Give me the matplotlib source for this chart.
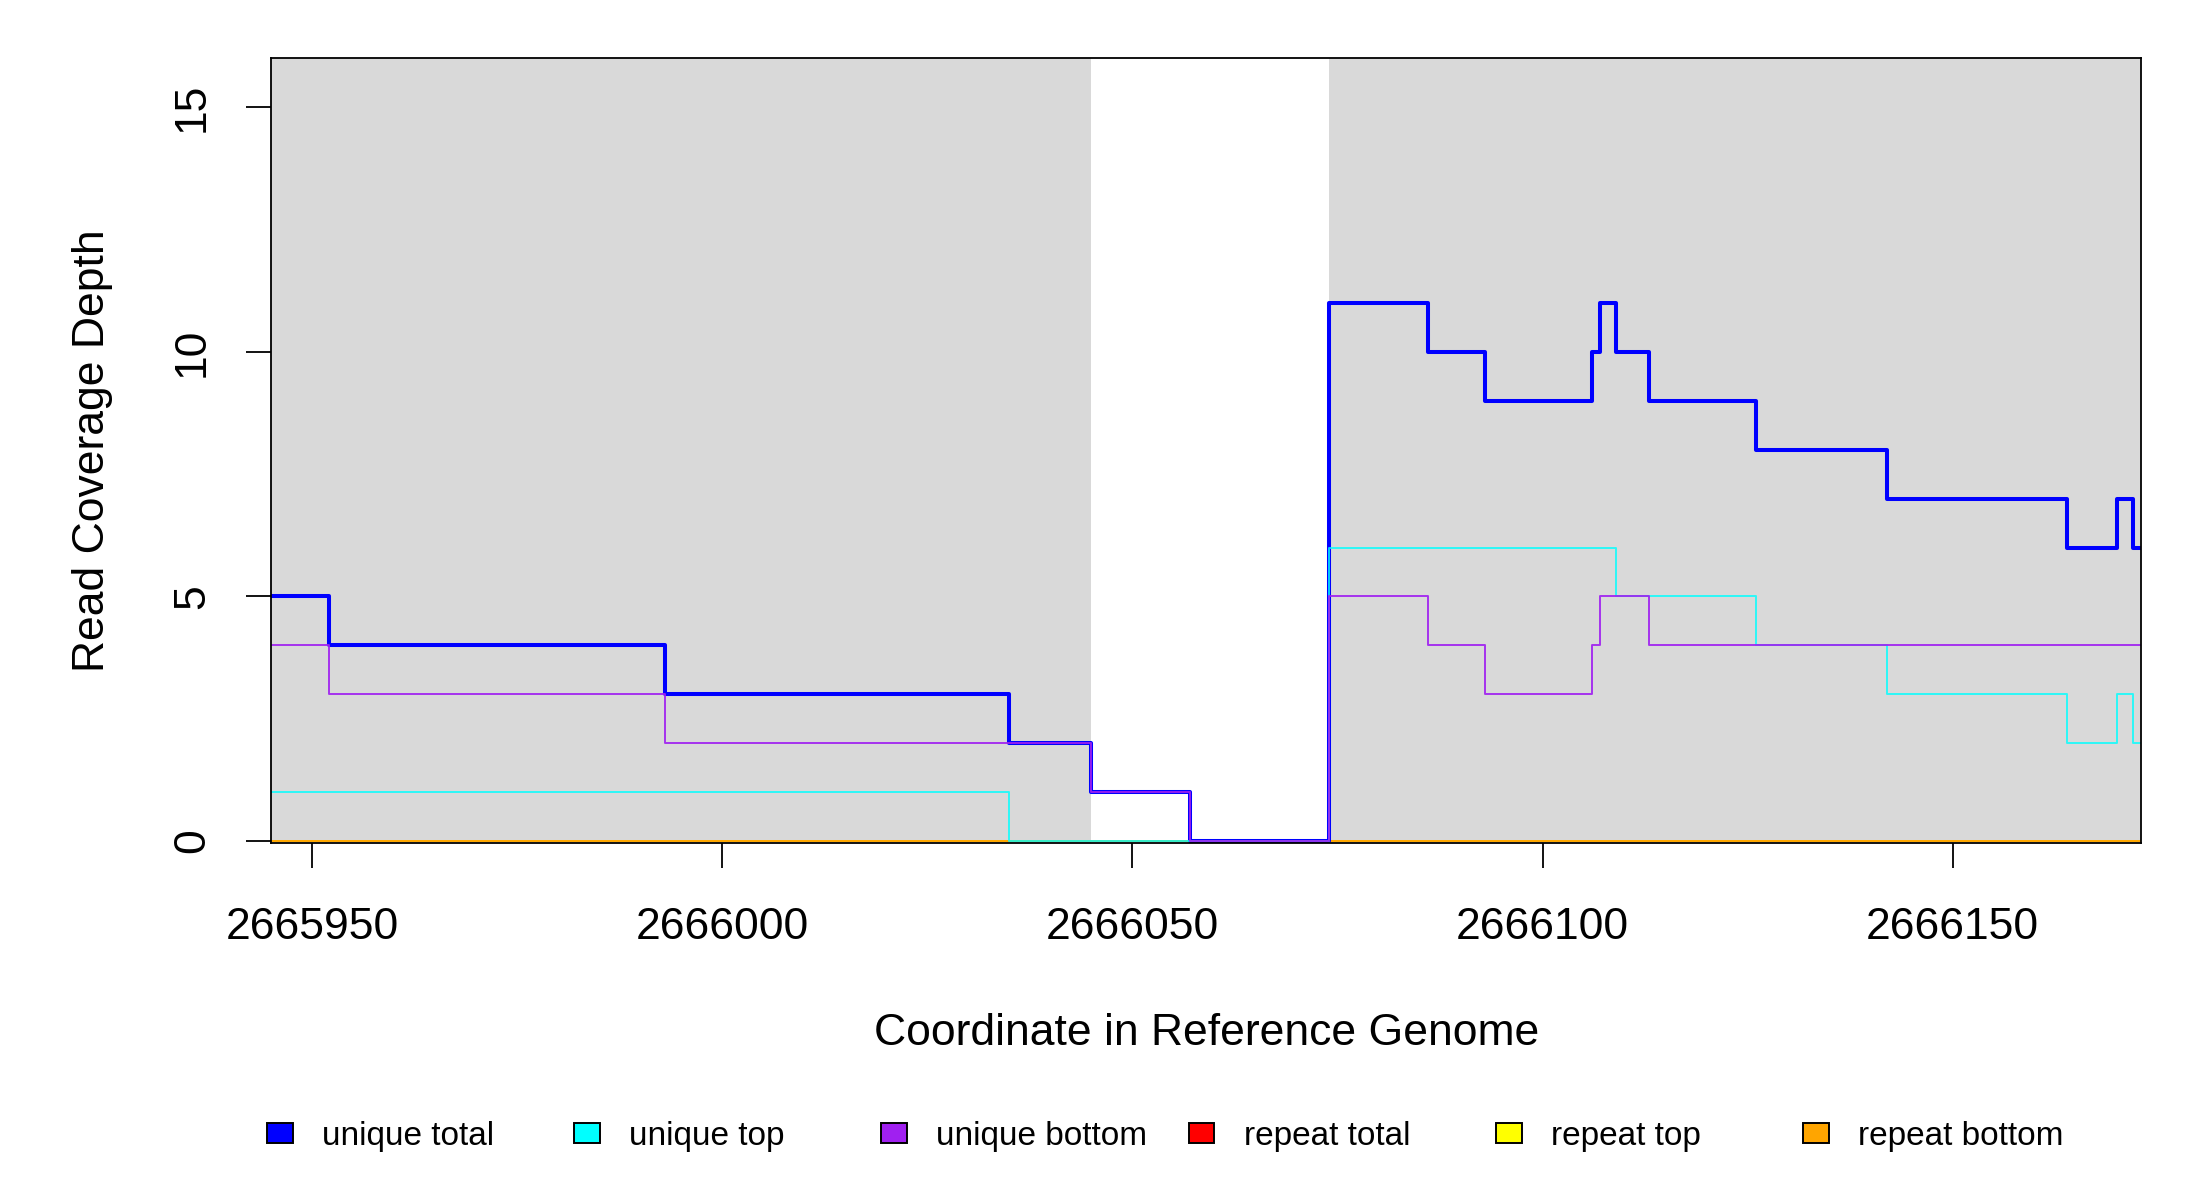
import matplotlib
matplotlib.use("Agg")
import matplotlib.pyplot as plt
from matplotlib.patches import Rectangle

plt.rcParams['font.family'] = ['Liberation Sans', 'DejaVu Sans']

# ---- data ----
positions = [2665945, 2665952, 2665993, 2666035, 2666045, 2666057, 2666074,
             2666086, 2666093, 2666106, 2666107, 2666109, 2666113, 2666126,
             2666142, 2666164, 2666170, 2666172, 2666173]
unique_total = [5, 4, 3, 2, 1, 0, 11, 10, 9, 10, 11, 10, 9, 8, 7, 6, 7, 6, 6]
unique_top = [1, 1, 1, 0, 0, 0, 6, 6, 6, 6, 6, 5, 5, 4, 3, 2, 3, 2, 2]
unique_bottom = [4, 3, 2, 2, 1, 0, 5, 4, 3, 4, 5, 5, 4, 4, 4, 4, 4, 4, 4]
repeat_total = [0] * 19
repeat_top = [0] * 19
repeat_bottom = [0] * 19

shaded_regions = [(2665945, 2666045), (2666074, 2666173)]
xlim = (2665945, 2666173)
ylim = (-0.04, 16)
xticks = [2665950, 2666000, 2666050, 2666100, 2666150]
yticks = [0, 5, 10, 15]

legend_labels = ["unique total", "unique top", "unique bottom",
                 "repeat total", "repeat top", "repeat bottom"]
legend_colors = ["#0000FF", "#00FFFF", "#A020F0", "#FF0000", "#FFFF00", "#FFA500"]

# ---- figure ----
fig = plt.figure(figsize=(22, 12), dpi=100)
W, H = 2200.0, 1200.0
ax_l, ax_r, ax_t, ax_b = 271.3, 2141.3, 58.3, 843.0
ax = fig.add_axes([ax_l / W, 1 - ax_b / H, (ax_r - ax_l) / W, (ax_b - ax_t) / H])

for (a, b) in shaded_regions:
    ax.axvspan(a, b, color="#D9D9D9", lw=0, zorder=0)

# repeat series first, unique series on top
ax.plot(positions, repeat_total, drawstyle="steps-post", color="#FF0000", lw=1.4, zorder=2)
ax.plot(positions, repeat_top, drawstyle="steps-post", color="#FFFF00", lw=1.4, zorder=2)
ax.plot(positions, repeat_bottom, drawstyle="steps-post", color="#FFA500", lw=1.4, zorder=2)
ax.plot(positions, unique_total, drawstyle="steps-post", color="#0000FF", lw=2.9, zorder=3)
ax.plot(positions, unique_top, drawstyle="steps-post", color="#00FFFF", lw=1.4, zorder=3, alpha=0.8)
ax.plot(positions, unique_bottom, drawstyle="steps-post", color="#A020F0", lw=1.4, zorder=3, alpha=0.9)

ax.set_xlim(*xlim)
ax.set_ylim(*ylim)

for s in ax.spines.values():
    s.set_color("black")
    s.set_linewidth(1.3)
    s.set_zorder(5)

ax.set_xticks(xticks)
ax.set_xticklabels([str(t) for t in xticks], fontsize=32)
ax.set_yticks(yticks)
ax.set_yticklabels([str(t) for t in yticks], fontsize=32, rotation=90, va="center", ha="right")
ax.tick_params(axis="x", length=18, width=1.3, pad=28, direction="out")
ax.tick_params(axis="y", length=18, width=1.3, pad=24, direction="out")

ax.set_xlabel("Coordinate in Reference Genome", fontsize=32)
ax.set_ylabel("Read Coverage Depth", fontsize=32)
axw = ax_r - ax_l
axh = ax_b - ax_t
ax.xaxis.set_label_coords(0.5, -(1013 - ax_b) / axh)
ax.yaxis.set_label_coords((113 - ax_l) / axw, 0.5)

# ---- legend ----
box_left0 = 267.0
spacing = 307.2
for i, (lab, col) in enumerate(zip(legend_labels, legend_colors)):
    bx = box_left0 + i * spacing
    fig.patches.append(Rectangle((bx / W, 1 - 1143.3 / H), 25.7 / W, 20.7 / H,
                                 transform=fig.transFigure, facecolor=col,
                                 edgecolor="black", lw=1.4))
    fig.text((bx + 55) / W, 1 - 1145 / H, lab, fontsize=24, ha="left", va="baseline")

fig.savefig("out.png", dpi=100, facecolor="white")
